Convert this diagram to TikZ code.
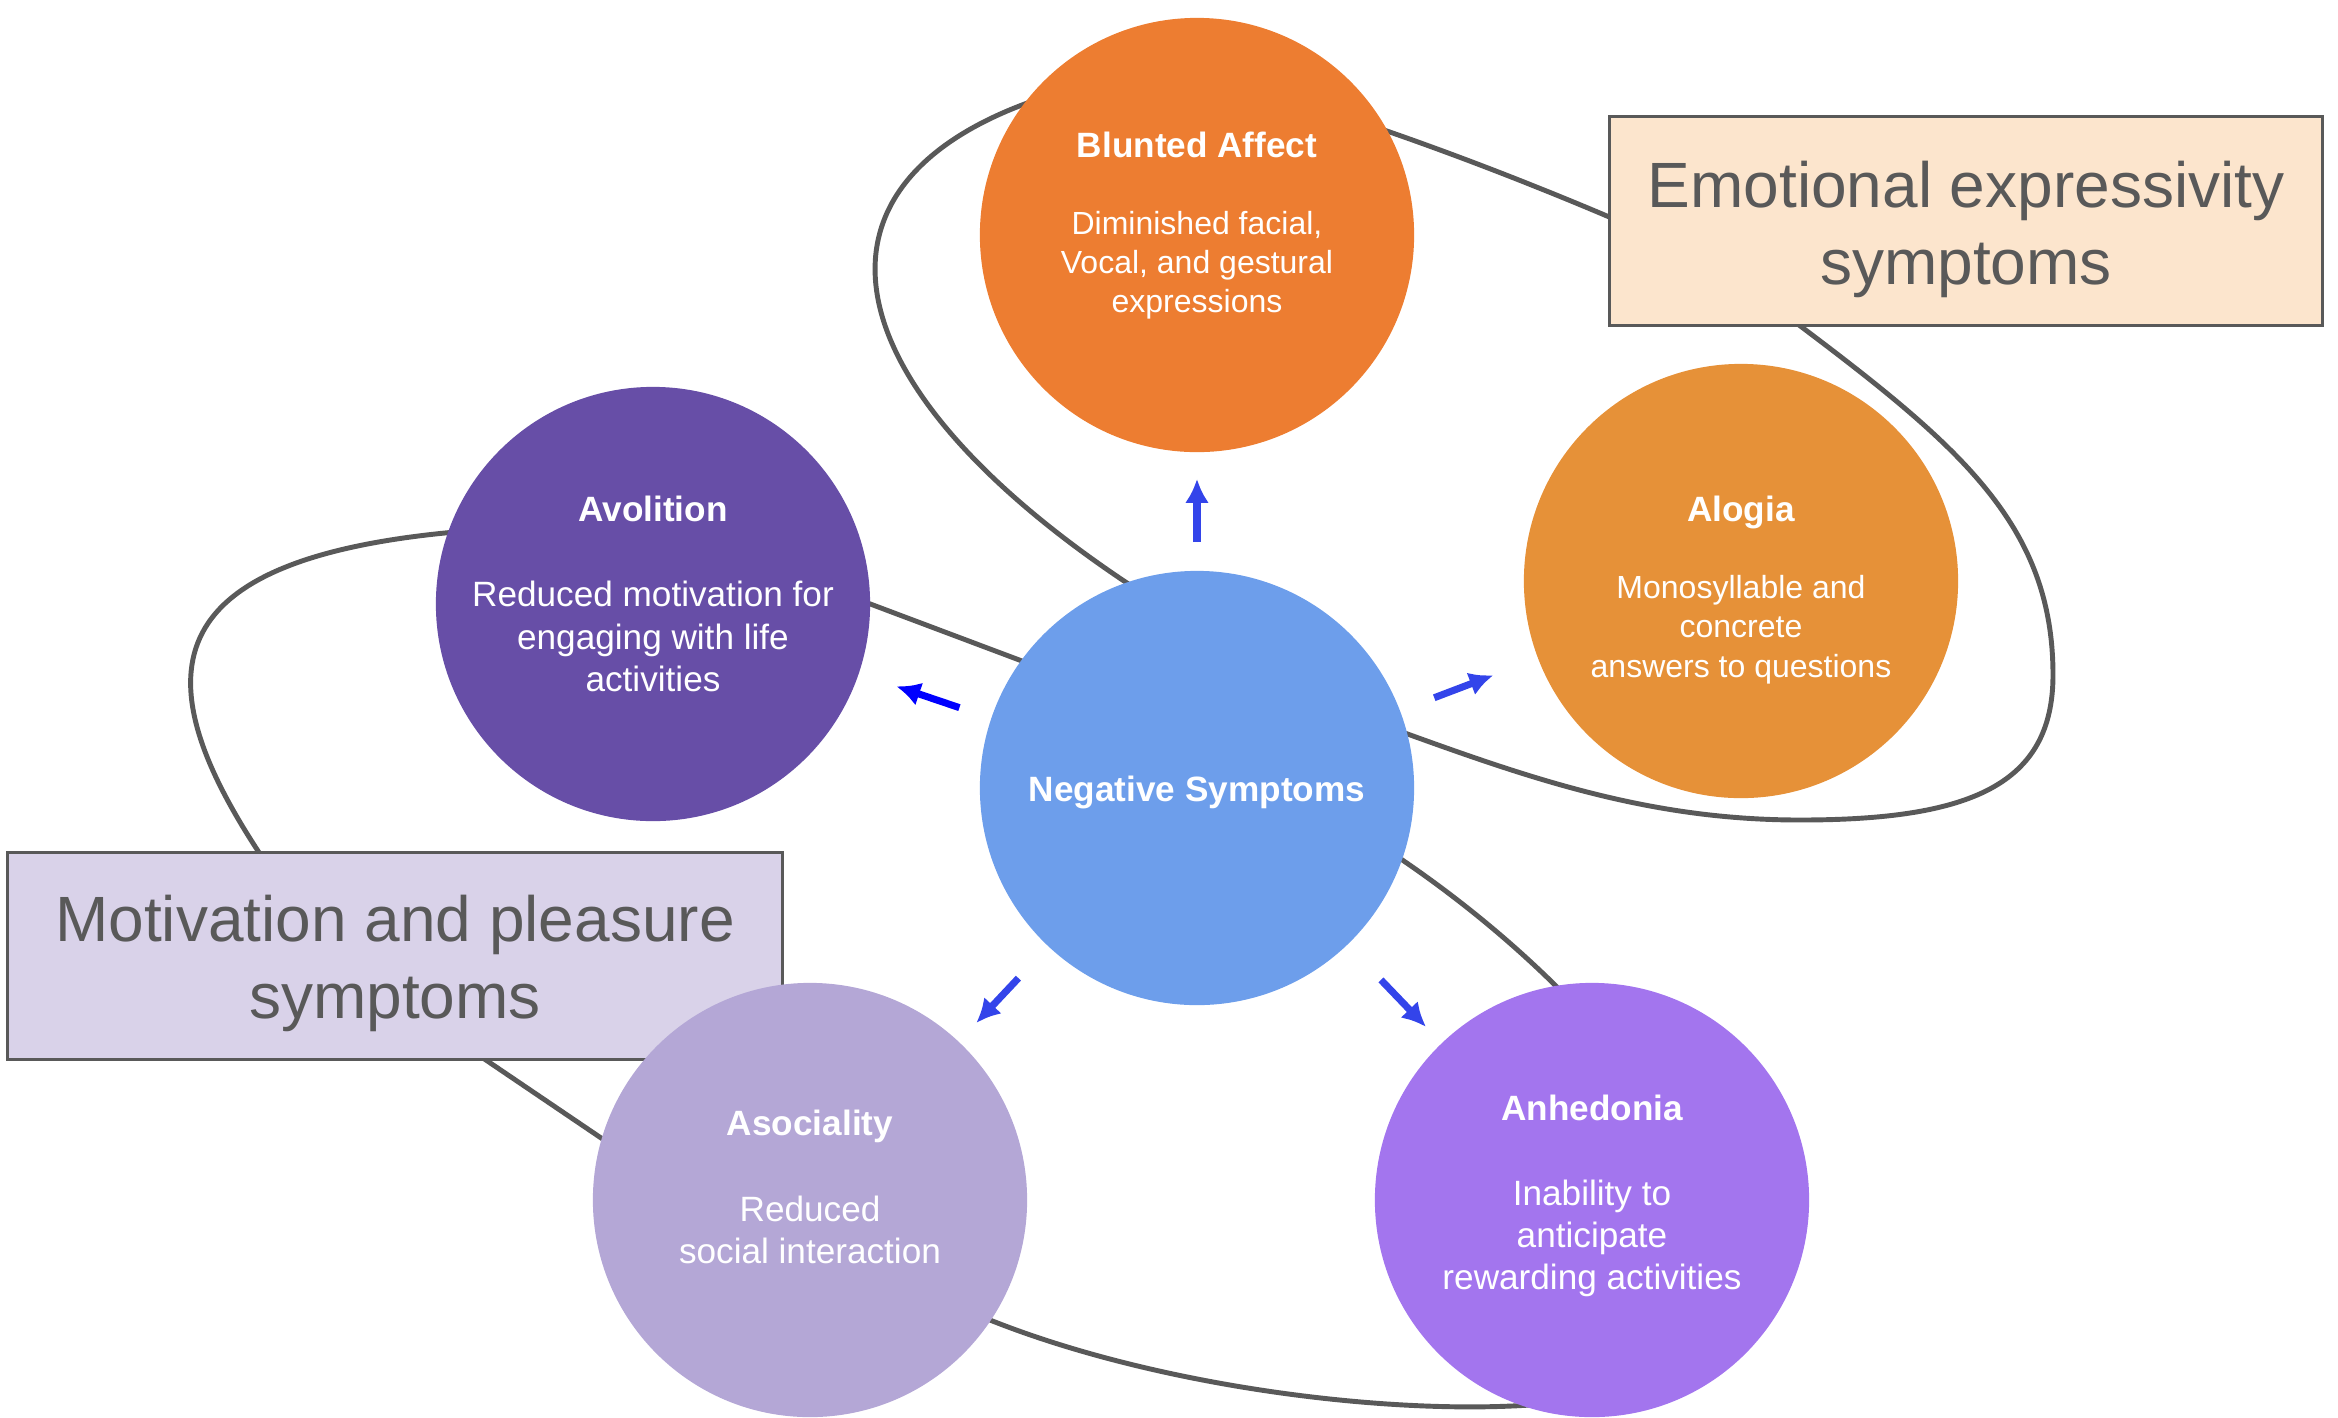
\documentclass[tikz,border=0pt]{standalone}
\usepackage{fontspec}
\setmainfont{Liberation Sans}
\usetikzlibrary{arrows.meta}

\definecolor{negblue}{HTML}{6D9EEB}
\definecolor{bluntorange}{HTML}{ED7D31}
\definecolor{alogiaorange}{HTML}{E69138}
\definecolor{avolpurple}{HTML}{674EA7}
\definecolor{asocpurple}{HTML}{B4A7D6}
\definecolor{anhedpurple}{HTML}{A375EE}
\definecolor{emofill}{HTML}{FCE5CD}
\definecolor{motfill}{HTML}{D9D2E9}
\definecolor{linegray}{HTML}{595959}
\definecolor{arrowblue}{HTML}{3344EA}
\definecolor{purearrow}{HTML}{0000FF}

\newcommand{\bubtitle}[1]{{\bfseries\fontsize{10}{12}\selectfont #1}}

\tikzset{
  bubble/.style={circle, fill=#1, minimum size=4.34cm, inner sep=0pt},
  bubtext/.style={text=white, align=center, inner sep=0pt, font=\fontsize{10}{12}\selectfont},
  smallbody/.style={font=\fontsize{9.1}{11.1}\selectfont},
  groupbox/.style={draw=linegray, line width=1pt, inner sep=0pt},
  boxtext/.style={text=linegray, align=center, inner sep=0pt, font=\fontsize{18.2}{21.9}\selectfont},
  groupline/.style={draw=linegray, line width=1.4pt},
  symarrow/.style={line width=2pt, -{Latex[length=0.24cm,width=0.24cm]}},
}

\begin{document}
\begin{tikzpicture}[x=0.01cm,y=-0.01cm]
    \useasboundingbox (0,0) rectangle (2338,1417);

    % group outlines, behind everything
    \draw[groupline] (1130,585) .. controls (833,388) and (790,189) .. (1030,102)
        -- (1384,130) .. controls (1465,158) and (1546,190) .. (1614,219)
        -- (1795,322) .. controls (1960,446) and (2053,525) .. (2053,675)
        .. controls (2053,785) and (1970,820) .. (1800,820)
        .. controls (1650,820) and (1532,779) .. (1402,732) -- cycle;
    \draw[groupline] (1030,664) -- (865,602) -- (455,532)
        .. controls (151,560) and (143,678) .. (262,857)
        -- (480,1056) -- (610,1144) -- (985,1318)
        .. controls (1150,1385) and (1380,1415) .. (1530,1405)
        -- (1560,990) .. controls (1520,950) and (1465,902) .. (1395,855) -- cycle;

    \node[groupbox, fill=emofill, minimum width=7.13cm, minimum height=2.09cm] (emo) at (1966,221) {};
    \node[boxtext] (emo-text) at ([yshift=-0.08cm]emo.center) {Emotional expressivity\\symptoms};
    \node[groupbox, fill=motfill, minimum width=7.75cm, minimum height=2.07cm] (mot) at (395,956) {};
    \node[boxtext] (mot-text) at ([yshift=-0.07cm]mot.center) {Motivation and pleasure\\symptoms};

    \node[bubble=negblue] (neg) at (1197,788) {};
    \node[bubble=bluntorange] (blunted) at (1197,235) {};
    \node[bubble=alogiaorange] (alogia) at (1741,581) {};
    \node[bubble=avolpurple] (avolition) at (653,604) {};
    \node[bubble=asocpurple] (asociality) at (810,1200) {};
    \node[bubble=anhedpurple] (anhedonia) at (1592,1200) {};

    \node[bubtext, font=\bfseries\fontsize{10}{12}\selectfont] (neg-text) at ([yshift=-0.04cm]neg.center) {Negative Symptoms};
    \node[bubtext, smallbody] (blunted-text) at ([yshift=0.09cm]blunted.center) {\bubtitle{Blunted Affect}\\[0.38cm]Diminished facial,\\Vocal, and gestural\\expressions};
    \node[bubtext, smallbody] (alogia-text) at ([yshift=-0.09cm]alogia.center) {\bubtitle{Alogia}\\[0.38cm]Monosyllable and\\concrete\\answers to questions};
    \node[bubtext] (avolition-text) at ([yshift=0.10cm]avolition.center) {\bubtitle{Avolition}\\[0.43cm]Reduced motivation for\\engaging with life\\activities};
    \node[bubtext] (asociality-text) at ([yshift=0.13cm]asociality.center) {\bubtitle{Asociality}\\[0.43cm]Reduced\\social interaction};
    \node[bubtext] (anhedonia-text) at ([yshift=0.04cm]anhedonia.center) {\bubtitle{Anhedonia}\\[0.43cm]Inability to\\anticipate\\rewarding activities};

    \foreach \tgt/\sa/\sb/\col in {blunted/0.28/0.26/arrowblue, avolition/0.33/0.39/purearrow,
        alogia/0.36/0.47/arrowblue, asociality/0.43/0.25/arrowblue, anhedonia/0.48/0.22/arrowblue} {
        \draw[symarrow, draw=\col, fill=\col, shorten <=\sa cm, shorten >=\sb cm] (neg) -- (\tgt);
    }
\end{tikzpicture}
\end{document}
